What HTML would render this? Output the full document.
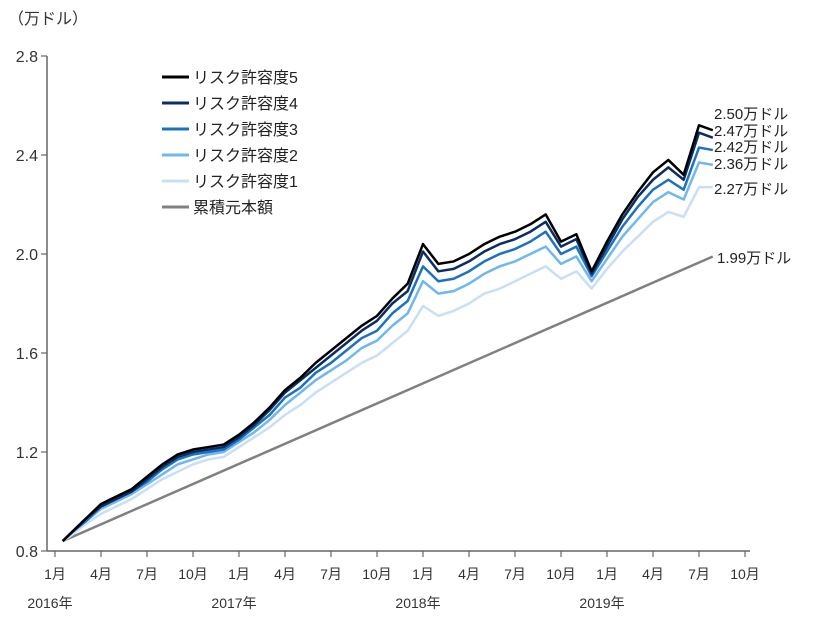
<!DOCTYPE html>
<html><head><meta charset="utf-8">
<style>
body{margin:0;background:#fff;}
svg{display:block;font-family:"Liberation Sans","Noto Sans CJK JP",sans-serif;}
</style></head>
<body>
<svg id="chart" width="815" height="619" viewBox="0 0 815 619">
<text x="8" y="24" font-size="16" fill="#333">（万ドル）</text>
<g id="axes"></g>
<g id="series"></g>
<g id="legend"></g>
<g id="endlabels"></g>
</svg>
<script>
const monthIdx = [0.5,1,2,3,4,5,6,7,8,9,10,11,12,13,14,15,16,17,18,19,20,21,22,23,24,25,26,27,28,29,30,31,32,33,34,35,36,37,38,39,40,41,42,42.9];
const risk5 = [0.84,0.87,0.93,0.99,1.02,1.05,1.10,1.15,1.19,1.21,1.22,1.23,1.27,1.32,1.38,1.45,1.50,1.56,1.61,1.66,1.71,1.75,1.82,1.88,2.04,1.96,1.97,2.00,2.04,2.07,2.09,2.12,2.16,2.05,2.08,1.93,2.05,2.16,2.25,2.33,2.38,2.32,2.52,2.50];
const risk4 = [0.84,0.87,0.93,0.98,1.01,1.04,1.09,1.14,1.18,1.20,1.21,1.22,1.26,1.31,1.37,1.44,1.49,1.54,1.59,1.64,1.69,1.73,1.80,1.85,2.01,1.93,1.94,1.97,2.01,2.04,2.06,2.09,2.13,2.03,2.06,1.92,2.03,2.14,2.23,2.30,2.35,2.30,2.49,2.47];
const risk3 = [0.84,0.87,0.92,0.98,1.01,1.04,1.08,1.13,1.17,1.19,1.20,1.21,1.25,1.30,1.35,1.42,1.46,1.52,1.56,1.61,1.66,1.69,1.76,1.81,1.95,1.89,1.90,1.93,1.97,2.00,2.02,2.05,2.09,2.00,2.03,1.91,2.01,2.11,2.19,2.26,2.30,2.26,2.43,2.42];
const risk2 = [0.84,0.87,0.92,0.97,1.00,1.03,1.07,1.11,1.15,1.17,1.19,1.20,1.24,1.28,1.33,1.39,1.44,1.49,1.53,1.57,1.62,1.65,1.71,1.76,1.89,1.84,1.85,1.88,1.92,1.95,1.97,2.00,2.03,1.96,1.99,1.89,1.98,2.07,2.14,2.21,2.25,2.22,2.37,2.36];
const risk1 = [0.84,0.86,0.91,0.95,0.98,1.01,1.05,1.09,1.12,1.15,1.17,1.18,1.22,1.26,1.30,1.35,1.39,1.44,1.48,1.52,1.56,1.59,1.64,1.69,1.79,1.75,1.77,1.80,1.84,1.86,1.89,1.92,1.95,1.90,1.93,1.86,1.94,2.01,2.07,2.13,2.17,2.15,2.27,2.27];
const contribIdx = [0.5,42.9];
const contrib = [0.84,1.99];
const yTicks = [0.8,1.2,1.6,2.0,2.4,2.8];
const xTickLabels = ["1月","4月","7月","10月","1月","4月","7月","10月","1月","4月","7月","10月","1月","4月","7月","10月"];
const yearLabels = ["2016年","2017年","2018年","2019年"];
const seriesNames = ["リスク許容度5","リスク許容度4","リスク許容度3","リスク許容度2","リスク許容度1","累積元本額"];
const endValues = ["2.50万ドル","2.47万ドル","2.42万ドル","2.36万ドル","2.27万ドル","1.99万ドル"];

const NS="http://www.w3.org/2000/svg";
const X0=55, PX_PER_MONTH=46/3, Y0=551, PX_PER_UNIT=247.5;
function xs(m){return X0+m*PX_PER_MONTH;}
function ys(v){return Y0-(v-0.8)*PX_PER_UNIT;}
function mk(tag,attrs,parent){const e=document.createElementNS(NS,tag);for(const k in attrs)e.setAttribute(k,attrs[k]);parent.appendChild(e);return e;}

const axes=document.getElementById('axes');
let yl=mk('line',{x1:47,y1:56,x2:47,y2:551,stroke:'#666','stroke-width':1.5},axes);


let xl=mk('line',{x1:47,y1:551,x2:750,y2:551,stroke:'#666','stroke-width':1.5},axes);


yTicks.forEach(v=>{
  const t=mk('line',{x1:41,y1:ys(v),x2:47,y2:ys(v),stroke:'#666','stroke-width':1.2},axes);
  
  
  const l=mk('text',{x:38,y:ys(v)+6,'text-anchor':'end','font-size':16,fill:'#333'},axes);
  l.textContent=v.toFixed(1);
  
  
});
xTickLabels.forEach((s,i)=>{
  const x=xs(i*3);
  const t=mk('line',{x1:x,y1:551,x2:x,y2:557,stroke:'#666','stroke-width':1.2},axes);
  
  
  const l=mk('text',{x:x,y:579,'text-anchor':'middle','font-size':14,fill:'#333'},axes);
  l.textContent=s;
  
  
});
yearLabels.forEach((s,i)=>{
  const l=mk('text',{x:xs(i*12)-5,y:608,'text-anchor':'middle','font-size':14,fill:'#333'},axes);
  l.textContent=s;
  
  
});

const colors=['#000000','#0b2d63','#1b72c0','#70b7ee','#c8dff7','#808080'];
const data=[risk5,risk4,risk3,risk2,risk1];
const sg=document.getElementById('series');
let cl=mk('polyline',{points:contribIdx.map((m,i)=>xs(m)+','+ys(contrib[i])).join(' '),fill:'none',stroke:colors[5],'stroke-width':2.5},sg);


for(let k=4;k>=0;k--){
  const p=mk('polyline',{points:monthIdx.map((m,i)=>xs(m)+','+ys(data[k][i])).join(' '),fill:'none',stroke:colors[k],'stroke-width':2.5,'stroke-linejoin':'round'},sg);
  
  
}

const lg=document.getElementById('legend');
seriesNames.forEach((s,i)=>{
  const y=77+i*26;
  const g=mk('g',{},lg);
  
  
  mk('line',{x1:162,y1:y,x2:189,y2:y,stroke:colors[i],'stroke-width':3},g);
  const t=mk('text',{x:193,y:y+6,'font-size':16,fill:'#222'},g);
  t.textContent=s;
});

const eg=document.getElementById('endlabels');
const endY=[119,136,152,169,194,263];
endValues.forEach((s,i)=>{
  const t=mk('text',{x:i==5?717:714,y:endY[i],'font-size':15,fill:'#222'},eg);
  t.textContent=s;
  
  
});
</script>
</body></html>
